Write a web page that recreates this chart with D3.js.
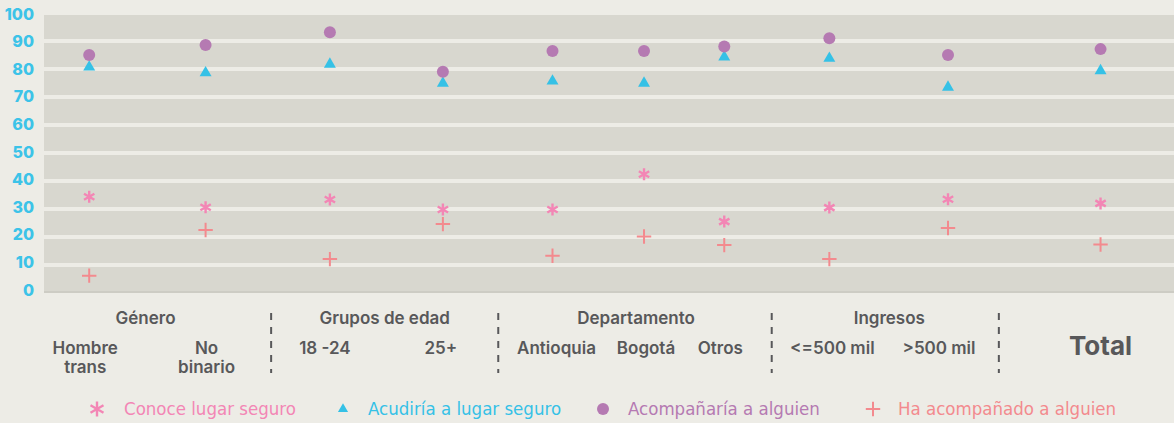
<!DOCTYPE html>
<html>
<head>
<meta charset="utf-8">
<script src="https://cdn.jsdelivr.net/npm/d3@7"></script>
<style>
  html, body { margin: 0; padding: 0; background: #edece6; }
  #chart svg { display: block; }
</style>
</head>
<body>
<div id="chart"></div>
<script>
// Categories (group, label lines)
const groups = ['Género', 'Grupos de edad', 'Departamento', 'Ingresos'];
const categories = [
    { key: 'ht', group: 'Género', label: ['Hombre', 'trans'] },
    { key: 'nb', group: 'Género', label: ['No', 'binario'] },
    { key: 'e1', group: 'Grupos de edad', label: ['18 -24'] },
    { key: 'e2', group: 'Grupos de edad', label: ['25+'] },
    { key: 'an', group: 'Departamento', label: ['Antioquia'] },
    { key: 'bo', group: 'Departamento', label: ['Bogotá'] },
    { key: 'ot', group: 'Departamento', label: ['Otros'] },
    { key: 'i1', group: 'Ingresos', label: ['<=500 mil'] },
    { key: 'i2', group: 'Ingresos', label: ['>500 mil'] },
    { key: 'tt', group: 'Total', label: ['Total'] }
];

// Series values, same order as categories
const conoce      = [34.4, 30.6, 33.4, 29.8, 29.8, 42.4, 25.5, 30.5, 33.5, 32.0];
const acudiria    = [80.7, 78.6, 81.7, 74.9, 75.7, 74.9, 84.3, 83.8, 73.5, 79.4];
const acompanaria = [85.0, 88.6, 93.1, 79.0, 86.4, 86.4, 88.0, 91.0, 85.0, 87.1];
const haAcompanado = [6.2, 22.5, 12.1, 24.6, 13.3, 20.2, 17.1, 12.1, 23.2, 17.3];

const yTicks = [0, 10, 20, 30, 40, 50, 60, 70, 80, 90, 100];

const series = [
    { name: 'Conoce lugar seguro', values: conoce, shape: 'asterisk', color: '#f386b5' },
    { name: 'Acudiría a lugar seguro', values: acudiria, shape: 'triangle', color: '#35c1e6' },
    { name: 'Acompañaría a alguien', values: acompanaria, shape: 'circle', color: '#b57ab2' },
    { name: 'Ha acompañado a alguien', values: haAcompanado, shape: 'plus', color: '#f38a8e' }
];

// Layout
const W = 1174, H = 423;
const plot = { left: 44, right: 1174, top: 13, bottom: 293 };
// horizontal slot of each category inside the plot (0..1)
const catSlot = [0.04, 0.143, 0.253, 0.353, 0.45, 0.531, 0.602, 0.695, 0.8, 0.935];
// separators between groups (0..1)
const sepSlot = [0.201, 0.402, 0.644, 0.845];
// small nudges of the header texts
const headerShift = [-12, 0, 1, 4];
const labelFont = 'Inter, "Open Sans", sans-serif';
const legendFont = '"Liberation Sans Narrow", "DejaVu Sans Condensed", "Roboto", sans-serif';

const svg = d3.select('#chart')
    .append('svg')
    .attr('width', W)
    .attr('height', H)
    .style('background', '#edece6');

const pos = d3.scaleLinear().domain([0, 1]).range([plot.left, plot.right]);
const x = d3.scaleOrdinal()
    .domain(categories.map(d => d.key))
    .range(catSlot.map(pos));

const y = d3.scaleLinear()
    .domain([0, 100])
    .range([plot.bottom, plot.top]);

// tick labels sit on a slightly tighter scale than the bands
const yLabel = d3.scaleLinear()
    .domain([0, 100])
    .range([290, 14]);

// Gray plot area with light gaps
svg.append('rect')
    .attr('x', plot.left)
    .attr('y', y(100))
    .attr('width', plot.right - plot.left)
    .attr('height', y(0) - y(100))
    .attr('fill', '#d8d7cf');

svg.append('g')
    .selectAll('line')
    .data(yTicks.filter(d => d > 0))
    .join('line')
    .attr('x1', plot.left)
    .attr('x2', plot.right)
    .attr('y1', d => y(d))
    .attr('y2', d => y(d))
    .attr('stroke', '#edece6')
    .attr('stroke-width', 4);

svg.append('line')
    .attr('x1', plot.left)
    .attr('x2', plot.right)
    .attr('y1', y(0) - 1)
    .attr('y2', y(0) - 1)
    .attr('stroke', '#cdccc4')
    .attr('stroke-width', 2);

// Y axis
const yAxis = svg.append('g')
    .attr('transform', 'translate(34,0)')
    .call(d3.axisLeft(yLabel).tickValues(yTicks).tickSize(0).tickPadding(0));
yAxis.select('.domain').remove();
yAxis.selectAll('text')
    .style('font-family', labelFont)
    .style('font-weight', 800)
    .style('font-size', '16px')
    .attr('fill', '#3cc3e8');

// Marker shapes
function drawMarker(sel, shape, color, s) {
    if (shape === 'circle') {
        sel.append('circle').attr('r', 6 * s).attr('fill', color);
    } else if (shape === 'triangle') {
        sel.append('path')
            .attr('d', d3.symbol(d3.symbolTriangle, 62 * s * s)())
            .attr('fill', color);
    } else if (shape === 'plus') {
        const r = 7.2 * s;
        sel.append('path')
            .attr('d', `M${-r},0H${r}M0,${-r}V${r}`)
            .attr('stroke', color)
            .attr('stroke-width', 2);
    } else if (shape === 'asterisk') {
        const r = 6 * s;
        const a = Math.PI / 3;
        const dx = r * Math.sin(a), dy = r * Math.cos(a);
        sel.append('path')
            .attr('d', `M0,${-r}V${r}M${-dx},${-dy}L${dx},${dy}M${-dx},${dy}L${dx},${-dy}`)
            .attr('stroke', color)
            .attr('stroke-width', 2.4);
    }
}

// Points
series.forEach(s => {
    svg.append('g')
        .selectAll('g')
        .data(categories.map((c, i) => ({ key: c.key, v: s.values[i] })))
        .join('g')
        .attr('transform', d => `translate(${x(d.key)},${y(d.v)})`)
        .each(function() { drawMarker(d3.select(this), s.shape, s.color, 1); });
});

// Category labels
const catLabels = svg.append('g')
    .style('font-family', labelFont)
    .style('font-weight', 600)
    .attr('fill', '#58585a')
    .attr('text-anchor', 'middle');

const catOffset = { ht: -4, nb: 1, e1: -5, e2: -2, an: 4, bo: 2, ot: -4, i1: 3, i2: -9, tt: 0 };

categories.forEach(c => {
    if (c.key === 'tt') {
        catLabels.append('text')
            .attr('x', x(c.key))
            .attr('y', 355)
            .style('font-size', '26px')
            .style('font-weight', 700)
            .text(c.label[0]);
        return;
    }
    const t = catLabels.append('text')
        .attr('x', x(c.key) + catOffset[c.key])
        .attr('y', 354)
        .style('font-size', '17px');
    c.label.forEach((line, i) => {
        t.append('tspan')
            .attr('x', x(c.key) + catOffset[c.key])
            .attr('dy', i === 0 ? 0 : 19)
            .text(line);
    });
});

// Group headers
groups.forEach((g, gi) => {
    const left = gi === 0 ? pos(0) : pos(sepSlot[gi - 1]);
    const right = pos(sepSlot[gi]);
    catLabels.append('text')
        .attr('x', (left + right) / 2 + headerShift[gi])
        .attr('y', 324)
        .style('font-size', '17px')
        .text(g);
});

// Dashed separators
svg.append('g')
    .selectAll('line')
    .data(sepSlot)
    .join('line')
    .attr('x1', d => pos(d))
    .attr('x2', d => pos(d))
    .attr('y1', 313)
    .attr('y2', 373)
    .attr('stroke', '#58585a')
    .attr('stroke-width', 2)
    .attr('stroke-dasharray', '7,7');

// Legend
const legendX = [97, 343, 603, 873];
const legend = svg.append('g');
series.forEach((s, i) => {
    const g = legend.append('g').attr('transform', `translate(${legendX[i]},409)`);
    drawMarker(g, s.shape, s.color, s.shape === 'triangle' ? 0.85 : (s.shape === 'asterisk' ? 1.25 : 1));
    g.append('text')
        .attr('x', 22 + (s.shape === 'asterisk' ? 5 : 3))
        .attr('dy', '0.35em')
        .style('font-family', legendFont)
        .style('font-size', '18.5px')
        .attr('fill', s.color)
        .text(s.name);
});
</script>
</body>
</html>
